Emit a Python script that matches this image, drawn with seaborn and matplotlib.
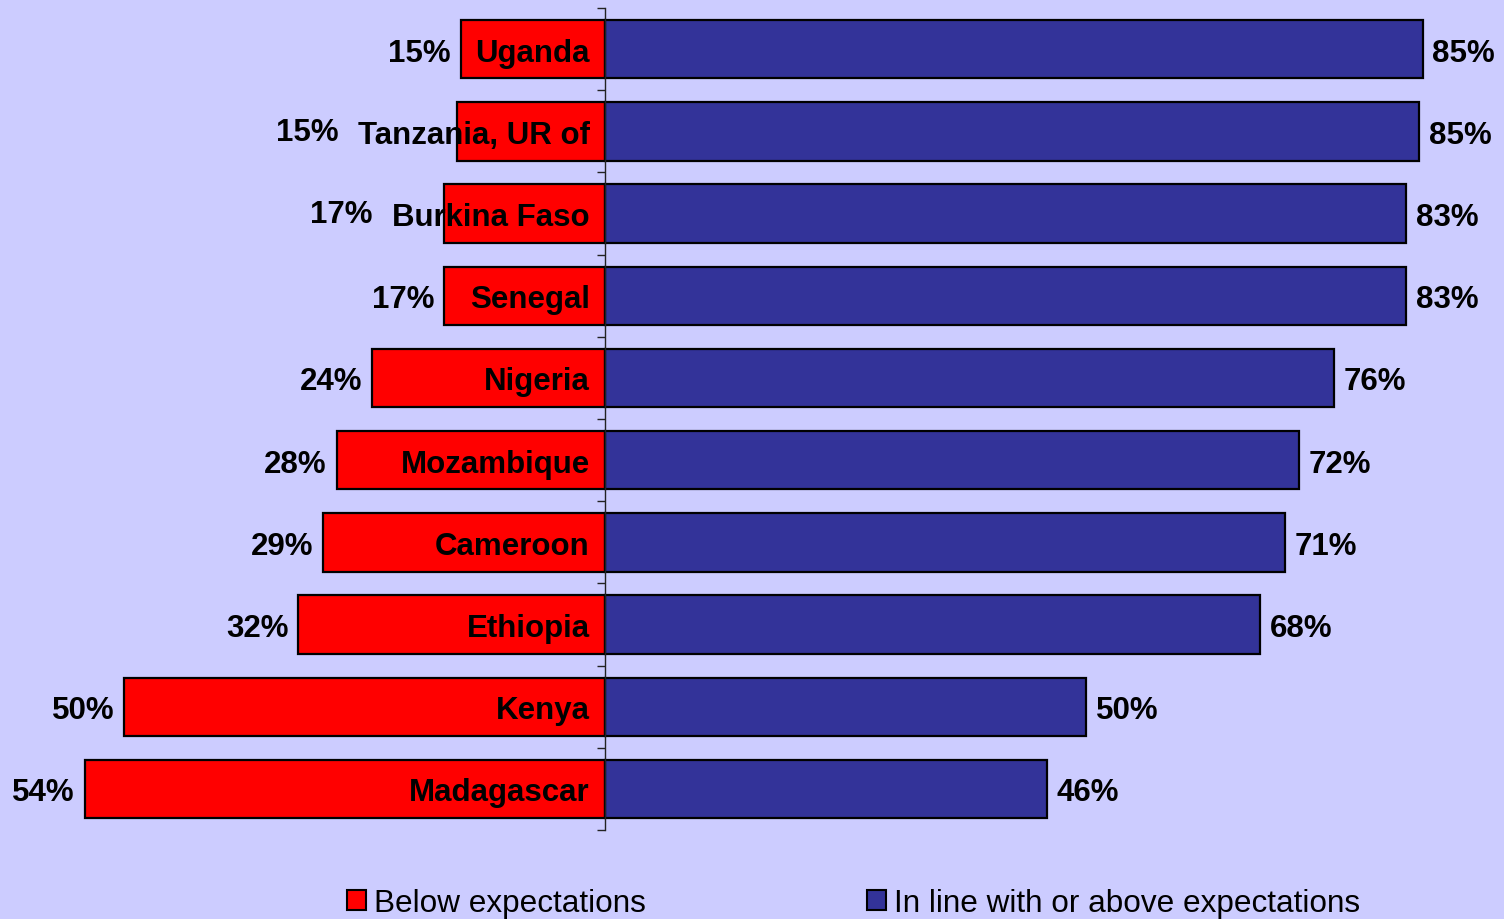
import numpy as np
import matplotlib
matplotlib.use('Agg')
import matplotlib.pyplot as plt
from matplotlib.patches import Rectangle
import seaborn as sns

# data (percent of respondents)
countries = ['Uganda', 'Tanzania, UR of', 'Burkina Faso', 'Senegal', 'Nigeria',
             'Mozambique', 'Cameroon', 'Ethiopia', 'Kenya', 'Madagascar']
below = [15.0, 15.4, 16.7, 16.7, 24.2, 27.9, 29.3, 31.9, 50.0, 54.1]
above = [85.0, 84.6, 83.3, 83.3, 75.8, 72.1, 70.7, 68.1, 50.0, 45.9]
legend_labels = ['Below expectations', 'In line with or above expectations']

RED = '#FF0000'
NAVY = '#333399'
BG = '#CCCCFF'
fs = 22.5

sns.set_style('white')
plt.rcParams['font.family'] = ['Liberation Sans', 'DejaVu Sans']
plt.rcParams['text.color'] = 'black'

fig = plt.figure(figsize=(15.04, 9.2), dpi=100, facecolor=BG)
ax = fig.add_axes([0, 0.0967, 1, 0.8935])
ax.set_facecolor(BG)

# diverging bars: below to the left, above to the right
sns.barplot(x=[-v for v in below], y=countries, orient='h', color=RED, saturation=1,
            width=0.71, edgecolor='black', linewidth=1.6, ax=ax)
sns.barplot(x=above, y=countries, orient='h', color=NAVY, saturation=1,
            width=0.71, edgecolor='black', linewidth=1.6, ax=ax)

ax.set_xlim(-62.9, 93.45)
ax.set_ylim(len(countries) - 0.5, -0.5)
for s in ['top', 'right', 'bottom']:
    ax.spines[s].set_visible(False)
ax.spines['left'].set_position(('data', 0))
ax.spines['left'].set_color('#222222')
ax.spines['left'].set_linewidth(1)
ax.set_yticks(np.arange(-0.5, len(countries), 1))
ax.set_yticklabels([])
ax.tick_params(axis='y', direction='out', length=6, width=1, color='#222222', left=True)
ax.set_xticks([])
ax.set_xlabel('')
ax.set_ylabel('')

# country names inside the red bars, values at the ends
names = []
for i, name in enumerate(countries):
    t = ax.annotate(name, (0, i), xytext=(-11, 0), textcoords='offset points',
                    ha='right', va='center_baseline', fontsize=fs, fontweight='bold')
    names.append(t)
    ax.annotate(f'{above[i]:.0f}%', (above[i], i), xytext=(7, 0), textcoords='offset points',
                ha='left', va='center_baseline', fontsize=fs, fontweight='bold')

fig.canvas.draw()
r = fig.canvas.get_renderer()
inv = ax.transData.inverted()
for i, t in enumerate(names):
    name_left = inv.transform(t.get_window_extent(r))[0][0]
    if name_left < -below[i]:
        # name sticks out of the bar, push the value label past it
        x, gap, dy = name_left, 14, 2
    else:
        x, gap, dy = -below[i], 7, 0
    ax.annotate(f'{below[i]:.0f}%', (x, i), xytext=(-gap, dy), textcoords='offset points',
                ha='right', va='center_baseline', fontsize=fs, fontweight='bold')

handles = [Rectangle((0, 0), 1, 1, facecolor=RED, edgecolor='black', linewidth=1.5),
           Rectangle((0, 0), 1, 1, facecolor=NAVY, edgecolor='black', linewidth=1.5)]
fig.legend(handles, legend_labels, loc='center', bbox_to_anchor=(0.5675, 0.0175), ncol=2,
           frameon=False, fontsize=22.7, handlelength=0.62, handleheight=0.62,
           handletextpad=0.25, columnspacing=7.0, borderpad=0, borderaxespad=0)

fig.savefig('out.png', dpi=100, facecolor=BG)
